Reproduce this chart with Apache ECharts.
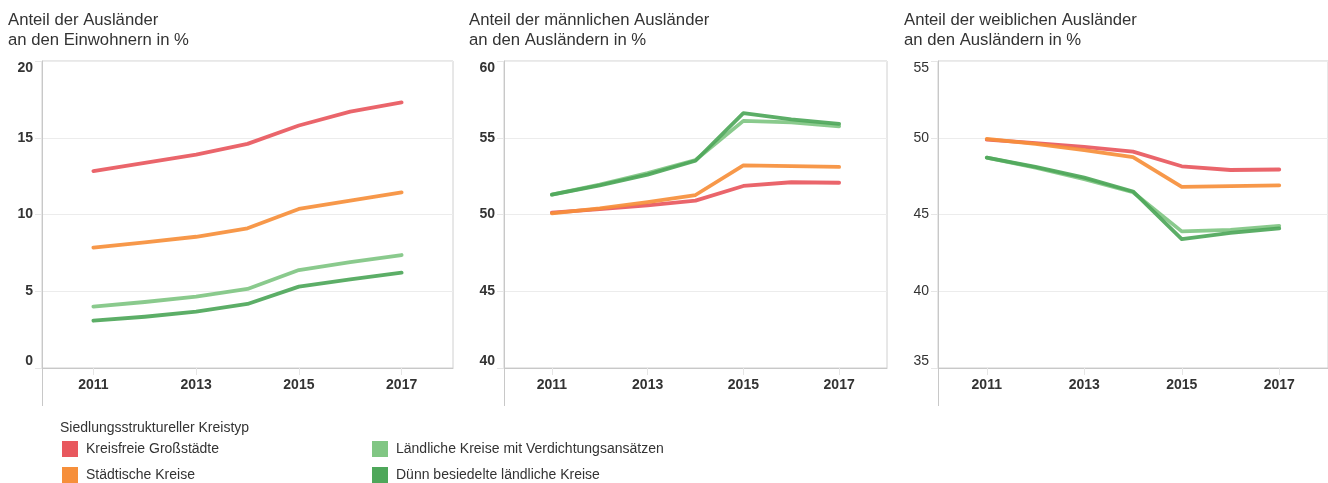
<!DOCTYPE html>
<html>
<head>
<meta charset="utf-8">
<script src="https://cdn.jsdelivr.net/npm/echarts@6/dist/echarts.min.js"></script>
<style>
html,body{margin:0;padding:0;background:#fff;}
#chart{width:1328px;height:483px;}
</style>
</head>
<body>
<div id="chart"></div>
<script>
// ---- data ----
const years = [2011, 2012, 2013, 2014, 2015, 2016, 2017];
const tickYears = [2011, 2013, 2015, 2017];
const seriesNames = ['Kreisfreie Großstädte', 'Städtische Kreise', 'Ländliche Kreise mit Verdichtungsansätzen', 'Dünn besiedelte ländliche Kreise'];
const panelTitles = ['Anteil der Ausländer\nan den Einwohnern in %', 'Anteil der männlichen Ausländer\nan den Ausländern in %', 'Anteil der weiblichen Ausländer\nan den Ausländern in %'];
const legendTitle = 'Siedlungsstruktureller Kreistyp';

// Anteil der Ausländer an den Einwohnern
const einwKreisfrei = [12.83, 13.37, 13.9, 14.6, 15.8, 16.7, 17.3];
const einwStaedtisch = [7.84, 8.19, 8.55, 9.1, 10.36, 10.9, 11.44];
const einwLaendlVerd = [4.0, 4.3, 4.65, 5.15, 6.38, 6.9, 7.36];
const einwDuenn = [3.08, 3.34, 3.67, 4.17, 5.3, 5.78, 6.21];

// Anteil der männlichen Ausländer
const maennKreisfrei = [50.12, 50.35, 50.6, 50.9, 51.86, 52.1, 52.07];
const maennStaedtisch = [50.08, 50.4, 50.8, 51.27, 53.2, 53.15, 53.1];
const maennLaendlVerd = [51.3, 51.95, 52.7, 53.55, 56.1, 56.0, 55.75];
const maennDuenn = [51.3, 51.9, 52.6, 53.5, 56.6, 56.2, 55.9];

// Anteil der weiblichen Ausländer
const weibKreisfrei = [49.88, 49.65, 49.4, 49.1, 48.14, 47.9, 47.93];
const weibStaedtisch = [49.92, 49.6, 49.2, 48.73, 46.8, 46.85, 46.9];
const weibLaendlVerd = [48.7, 48.05, 47.3, 46.45, 43.9, 44.0, 44.25];
const weibDuenn = [48.7, 48.1, 47.4, 46.5, 43.4, 43.8, 44.1];

const yMins = [0, 40, 35];
const yMaxs = [20, 60, 55];

// ---- styles / layout ----
const colors = ['#e8585e', '#f68f3b', '#80c683', '#4ea75a'];
const FONT = '"Liberation Sans", Arial, sans-serif';
const grids = [
  {left: 42, top: 61, width: 411, height: 307},
  {left: 504, top: 61, width: 383, height: 307},
  {left: 938, top: 61, width: 392, height: 307}
];
const panelData = [
  [einwKreisfrei, einwStaedtisch, einwLaendlVerd, einwDuenn],
  [maennKreisfrei, maennStaedtisch, maennLaendlVerd, maennDuenn],
  [weibKreisfrei, weibStaedtisch, weibLaendlVerd, weibDuenn]
];
const titleLefts = [8, 469, 904];

const option = {
  animation: false,
  backgroundColor: '#fff',
  color: colors,
  title: panelTitles.map((t, i) => ({
    text: t, left: titleLefts[i], top: 10, padding: 0,
    textStyle: {fontFamily: FONT, fontSize: 16.7, fontWeight: 'normal', color: '#333', lineHeight: 20}
  })).concat([{
    text: legendTitle, left: 60, top: 421, padding: 0,
    textStyle: {fontFamily: FONT, fontSize: 14, fontWeight: 'normal', color: '#333'}
  }]),
  grid: grids.map(g => Object.assign({show: true, borderColor: '#d0d0d0', borderWidth: 1, backgroundColor: 'transparent'}, g)),
  xAxis: grids.map((g, i) => ({
    type: 'value', gridIndex: i, min: 2010, max: 2018, interval: 1,
    splitLine: {show: false},
    axisLine: {show: true, lineStyle: {color: '#c8c8c8', width: 1}},
    axisTick: {show: true, customValues: tickYears, length: 7, lineStyle: {color: '#e6e6e6'}},
    axisLabel: {customValues: tickYears, formatter: v => String(v), margin: 10, fontFamily: FONT, fontSize: 14, fontWeight: 'bold', color: '#333'}
  })),
  yAxis: grids.map((g, i) => ({
    type: 'value', gridIndex: i, min: yMins[i], max: yMaxs[i], interval: 5,
    splitLine: {show: true, lineStyle: {color: '#ececec', width: 1}},
    axisLine: {show: true, lineStyle: {color: '#c8c8c8', width: 1}},
    axisTick: {show: true, length: 7, lineStyle: {color: '#e6e6e6'}},
    axisLabel: {
      margin: 9, fontFamily: FONT, fontSize: 14, fontWeight: i === 2 ? 'normal' : 'bold', color: '#333',
      verticalAlignMinLabel: 'bottom', verticalAlignMaxLabel: 'top'
    }
  })),
  legend: [
    {data: [seriesNames[0], seriesNames[1]], left: 62, top: 441},
    {data: [seriesNames[2], seriesNames[3]], left: 372, top: 441}
  ].map(l => Object.assign({
    orient: 'vertical', icon: 'rect', itemWidth: 16, itemHeight: 16, itemGap: 10, padding: 0,
    selectedMode: false,
    textStyle: {fontFamily: FONT, fontSize: 14, color: '#333', padding: [0, 0, 0, 3]}
  }, l)),
  graphic: grids.map(g => ({
    type: 'line', silent: true,
    shape: {x1: g.left + 0.5, y1: g.top + g.height, x2: g.left + 0.5, y2: g.top + g.height + 38},
    style: {stroke: '#c8c8c8', lineWidth: 1}
  })),
  series: []
};

panelData.forEach((sets, p) => {
  sets.forEach((vals, s) => {
    option.series.push({
      type: 'line', name: seriesNames[s], xAxisIndex: p, yAxisIndex: p,
      data: years.map((y, k) => [y, vals[k]]),
      showSymbol: false, symbol: 'none', smooth: false,
      lineStyle: {width: 3.8, color: colors[s], opacity: 0.92, cap: 'round', join: 'round'},
      itemStyle: {color: colors[s]},
      emphasis: {disabled: true}
    });
  });
});

const chart = echarts.init(document.getElementById('chart'), null, {renderer: 'canvas'});
chart.setOption(option);
</script>
</body>
</html>
